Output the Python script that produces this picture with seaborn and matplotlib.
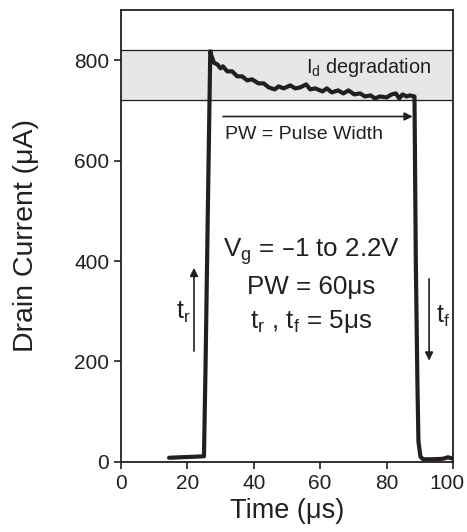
import matplotlib
matplotlib.use("Agg")
import matplotlib.pyplot as plt
import matplotlib.transforms as mtransforms
import seaborn as sns
import pandas as pd

# Data
time_us = [14.5, 18, 22, 25.0, 25.5, 26.3, 26.9, 27.3, 28, 29, 30.0, 30.7, 32, 33.5, 35, 36.5,
           38, 39.5, 41.4, 43, 44.5, 46.3, 47.5, 49, 51, 52.5, 54, 55.8, 57, 58.5,
           60.7, 62, 63.5, 65.4, 67, 68.5, 70.3, 72, 73.5, 75.2, 76.5, 78, 80, 81.5,
           82.8, 83.8, 84.8, 86, 87, 88.4, 88.5, 88.8, 89.3, 89.6, 90.2, 91, 94, 97,
           98.5, 100]
drain_ua = [8, 9, 10, 11, 200, 560, 818, 808, 795, 792, 784, 788, 778, 778, 768, 768,
            760, 762, 754, 754, 746, 742, 748, 744, 750, 744, 746, 752, 742, 744,
            738, 744, 736, 740, 734, 740, 732, 734, 728, 730, 724, 728, 726, 732,
            734, 724, 732, 728, 730, 728, 650, 400, 150, 40, 10, 5, 5, 6,
            9, 6]

band_low = 720
band_high = 820
x_ticks = [0, 20, 40, 60, 80, 100]
y_ticks = [0, 200, 400, 600, 800]

ink = "#231f20"

sns.set_style("ticks")
plt.rcParams['font.family'] = ['Liberation Sans', 'DejaVu Sans']
plt.rcParams['mathtext.default'] = 'regular'

df = pd.DataFrame({"t": time_us, "id": drain_ua})

fig = plt.figure(figsize=(4.67, 5.32), dpi=100)
ax = fig.add_axes([0.259, 0.132, 0.711, 0.849])

# degradation band
ax.axhspan(band_low, band_high, color="#e6e7e8", zorder=0)
ax.axhline(band_low, color=ink, lw=0.9, zorder=1)
ax.axhline(band_high, color=ink, lw=0.9, zorder=1)

sns.lineplot(data=df, x="t", y="id", color=ink, lw=3, sort=False, ax=ax, zorder=3)

ax.set_xlim(0, 100)
ax.set_ylim(0, 900)
ax.set_xticks(x_ticks)
ax.set_yticks(y_ticks)
ax.set_xlabel("Time (\u03bcs)", fontsize=19.5, color=ink, labelpad=4)
ax.set_ylabel("Drain Current (\u03bcA)", fontsize=20.5, color=ink, labelpad=25)
ax.tick_params(labelsize=15, colors=ink, length=5, width=1.2, direction="out")
for s in ax.spines.values():
    s.set_visible(True)
    s.set_linewidth(1.3)
    s.set_color(ink)

# pull the last x label in a little so it stays on the canvas
last = ax.get_xticklabels()[-1]
last.set_transform(last.get_transform() +
                   mtransforms.ScaledTranslation(-6 / 100, 0, fig.dpi_scale_trans))

# annotations
ax.text(93.5, 786, "I$_d$ degradation", fontsize=14.3, color=ink, ha="right", va="center")
ax.annotate("", xy=(88.7, 688), xytext=(29.9, 688),
            arrowprops=dict(arrowstyle="-|>", color=ink, lw=1.2, mutation_scale=12))
ax.text(55, 652, "PW = Pulse Width", fontsize=14, color=ink, ha="center", va="center")

ax.text(57.3, 419, "V$_g$ = \u20131 to 2.2V", fontsize=18.7, color=ink, ha="center", va="center")
ax.text(57.3, 349, "PW = 60\u03bcs", fontsize=18.7, color=ink, ha="center", va="center")
ax.text(57.3, 280, "t$_r$ , t$_f$ = 5\u03bcs", fontsize=18.7, color=ink, ha="center", va="center")

ax.annotate("", xy=(22, 392), xytext=(22, 215),
            arrowprops=dict(arrowstyle="-|>", color=ink, lw=1.2, mutation_scale=12))
ax.text(18.8, 297, "t$_r$", fontsize=18, color=ink, ha="center", va="center")
ax.annotate("", xy=(92.8, 196), xytext=(92.8, 370),
            arrowprops=dict(arrowstyle="-|>", color=ink, lw=1.2, mutation_scale=12))
ax.text(96.9, 290, "t$_f$", fontsize=18, color=ink, ha="center", va="center")

fig.savefig("out.png", dpi=100)
